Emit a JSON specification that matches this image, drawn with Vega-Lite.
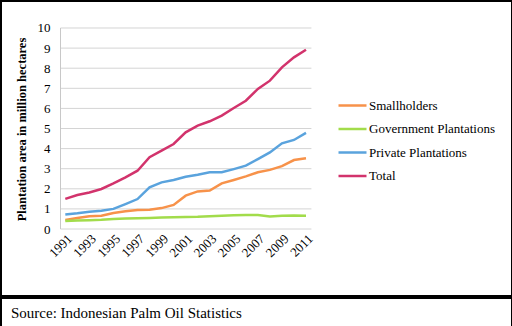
{
  "$schema": "https://vega.github.io/schema/vega-lite/v6.json",
  "padding": 0,
  "spacing": 0,
  "background": "white",
  "config": {
    "font": "Liberation Serif",
    "view": {"stroke": "black", "strokeWidth": 2},
    "axis": {"labelFont": "Liberation Serif", "titleFont": "Liberation Serif", "labelColor": "black", "titleColor": "black", "labelOverlap": false, "ticks": false, "domain": false, "grid": false, "labelFlush": false},
    "axisX": {"orient": "bottom", "offset": -67, "labelAngle": -45, "labelFontSize": 13, "labelPadding": 3, "format": "d"},
    "axisY": {"offset": -60, "labelFontSize": 13, "labelPadding": 11, "titleFontSize": 12.5, "titleFontWeight": "bold", "titleX": -40, "titleY": 128, "titleBaseline": "middle", "titleAngle": 270},
    "legend": {"labelFont": "Liberation Serif"}
  },
  "datasets": {
    "grid": [{"g": 0}, {"g": 1}, {"g": 2}, {"g": 3}, {"g": 4}, {"g": 5}, {"g": 6}, {"g": 7}, {"g": 8}, {"g": 9}, {"g": 10}],
    "area": [
      {"year": 1991, "series": "Smallholders", "value": 0.45},
      {"year": 1992, "series": "Smallholders", "value": 0.55},
      {"year": 1993, "series": "Smallholders", "value": 0.63},
      {"year": 1994, "series": "Smallholders", "value": 0.66},
      {"year": 1995, "series": "Smallholders", "value": 0.8},
      {"year": 1996, "series": "Smallholders", "value": 0.88},
      {"year": 1997, "series": "Smallholders", "value": 0.95},
      {"year": 1998, "series": "Smallholders", "value": 0.96},
      {"year": 1999, "series": "Smallholders", "value": 1.04},
      {"year": 2000, "series": "Smallholders", "value": 1.2},
      {"year": 2001, "series": "Smallholders", "value": 1.66},
      {"year": 2002, "series": "Smallholders", "value": 1.87},
      {"year": 2003, "series": "Smallholders", "value": 1.91},
      {"year": 2004, "series": "Smallholders", "value": 2.27},
      {"year": 2005, "series": "Smallholders", "value": 2.44},
      {"year": 2006, "series": "Smallholders", "value": 2.62},
      {"year": 2007, "series": "Smallholders", "value": 2.82},
      {"year": 2008, "series": "Smallholders", "value": 2.94},
      {"year": 2009, "series": "Smallholders", "value": 3.13},
      {"year": 2010, "series": "Smallholders", "value": 3.43},
      {"year": 2011, "series": "Smallholders", "value": 3.52},
      {"year": 1991, "series": "Government Plantations", "value": 0.4},
      {"year": 1992, "series": "Government Plantations", "value": 0.42},
      {"year": 1993, "series": "Government Plantations", "value": 0.44},
      {"year": 1994, "series": "Government Plantations", "value": 0.46},
      {"year": 1995, "series": "Government Plantations", "value": 0.5},
      {"year": 1996, "series": "Government Plantations", "value": 0.52},
      {"year": 1997, "series": "Government Plantations", "value": 0.53},
      {"year": 1998, "series": "Government Plantations", "value": 0.55},
      {"year": 1999, "series": "Government Plantations", "value": 0.57},
      {"year": 2000, "series": "Government Plantations", "value": 0.59},
      {"year": 2001, "series": "Government Plantations", "value": 0.6},
      {"year": 2002, "series": "Government Plantations", "value": 0.61},
      {"year": 2003, "series": "Government Plantations", "value": 0.64},
      {"year": 2004, "series": "Government Plantations", "value": 0.66},
      {"year": 2005, "series": "Government Plantations", "value": 0.68},
      {"year": 2006, "series": "Government Plantations", "value": 0.7},
      {"year": 2007, "series": "Government Plantations", "value": 0.7},
      {"year": 2008, "series": "Government Plantations", "value": 0.62},
      {"year": 2009, "series": "Government Plantations", "value": 0.66},
      {"year": 2010, "series": "Government Plantations", "value": 0.67},
      {"year": 2011, "series": "Government Plantations", "value": 0.66},
      {"year": 1991, "series": "Private Plantations", "value": 0.72},
      {"year": 1992, "series": "Private Plantations", "value": 0.78},
      {"year": 1993, "series": "Private Plantations", "value": 0.86},
      {"year": 1994, "series": "Private Plantations", "value": 0.91},
      {"year": 1995, "series": "Private Plantations", "value": 1.0},
      {"year": 1996, "series": "Private Plantations", "value": 1.24},
      {"year": 1997, "series": "Private Plantations", "value": 1.49},
      {"year": 1998, "series": "Private Plantations", "value": 2.07},
      {"year": 1999, "series": "Private Plantations", "value": 2.32},
      {"year": 2000, "series": "Private Plantations", "value": 2.44},
      {"year": 2001, "series": "Private Plantations", "value": 2.6},
      {"year": 2002, "series": "Private Plantations", "value": 2.7},
      {"year": 2003, "series": "Private Plantations", "value": 2.82},
      {"year": 2004, "series": "Private Plantations", "value": 2.82},
      {"year": 2005, "series": "Private Plantations", "value": 2.98},
      {"year": 2006, "series": "Private Plantations", "value": 3.15},
      {"year": 2007, "series": "Private Plantations", "value": 3.48},
      {"year": 2008, "series": "Private Plantations", "value": 3.81},
      {"year": 2009, "series": "Private Plantations", "value": 4.26},
      {"year": 2010, "series": "Private Plantations", "value": 4.43},
      {"year": 2011, "series": "Private Plantations", "value": 4.78},
      {"year": 1991, "series": "Total", "value": 1.5},
      {"year": 1992, "series": "Total", "value": 1.69},
      {"year": 1993, "series": "Total", "value": 1.82},
      {"year": 1994, "series": "Total", "value": 1.99},
      {"year": 1995, "series": "Total", "value": 2.27},
      {"year": 1996, "series": "Total", "value": 2.57},
      {"year": 1997, "series": "Total", "value": 2.9},
      {"year": 1998, "series": "Total", "value": 3.57},
      {"year": 1999, "series": "Total", "value": 3.9},
      {"year": 2000, "series": "Total", "value": 4.23},
      {"year": 2001, "series": "Total", "value": 4.81},
      {"year": 2002, "series": "Total", "value": 5.14},
      {"year": 2003, "series": "Total", "value": 5.36},
      {"year": 2004, "series": "Total", "value": 5.64},
      {"year": 2005, "series": "Total", "value": 6.02},
      {"year": 2006, "series": "Total", "value": 6.38},
      {"year": 2007, "series": "Total", "value": 6.97},
      {"year": 2008, "series": "Total", "value": 7.38},
      {"year": 2009, "series": "Total", "value": 8.04},
      {"year": 2010, "series": "Total", "value": 8.54},
      {"year": 2011, "series": "Total", "value": 8.92}
    ],
    "source": [{"label": "Source: Indonesian Palm Oil Statistics"}]
  },
  "vconcat": [
    {
      "width": 511,
      "height": 295,
      "layer": [
        {
          "data": {"name": "grid"},
          "mark": {"type": "rule", "color": "#d4d4d4", "strokeWidth": 1},
          "encoding": {
            "x": {
              "datum": 1990.6, "type": "quantitative",
              "scale": {"domain": [1985.657, 2028.117], "nice": false, "zero": false},
              "axis": {"title": null, "values": [1991, 1993, 1995, 1997, 1999, 2001, 2003, 2005, 2007, 2009, 2011]}
            },
            "x2": {"datum": 2011.45},
            "y": {
              "field": "g", "type": "quantitative",
              "scale": {"domain": [-3.333, 11.343], "nice": false, "zero": false},
              "axis": {"title": "Plantation area in million hectares", "values": [0, 1, 2, 3, 4, 5, 6, 7, 8, 9, 10]}
            }
          }
        },
        {
          "data": {"name": "grid"},
          "mark": {"type": "rule", "color": "#c8c8c8", "strokeWidth": 1},
          "transform": [{"filter": "datum.g == 0"}],
          "encoding": {
            "x": {"datum": 1990.6, "type": "quantitative",
              "axis": {"title": null, "values": [1991, 1993, 1995, 1997, 1999, 2001, 2003, 2005, 2007, 2009, 2011]}},
            "y": {"datum": 0, "type": "quantitative",
              "axis": {"title": "Plantation area in million hectares", "values": [0, 1, 2, 3, 4, 5, 6, 7, 8, 9, 10]}},
            "y2": {"datum": 10}
          }
        },
        {
          "data": {"name": "area"},
          "mark": {"type": "line", "strokeWidth": 2.5},
          "encoding": {
            "x": {"field": "year", "type": "quantitative",
              "axis": {"title": null, "values": [1991, 1993, 1995, 1997, 1999, 2001, 2003, 2005, 2007, 2009, 2011]}},
            "y": {"field": "value", "type": "quantitative",
              "axis": {"title": "Plantation area in million hectares", "values": [0, 1, 2, 3, 4, 5, 6, 7, 8, 9, 10]}},
            "color": {
              "field": "series", "type": "nominal",
              "scale": {
                "domain": ["Smallholders", "Government Plantations", "Private Plantations", "Total"],
                "range": ["#F7924A", "#A2DC4B", "#5AA3DD", "#D2336C"]
              },
              "legend": {
                "orient": "none", "legendX": 336, "legendY": 89, "title": null,
                "symbolType": "stroke", "symbolSize": 784, "symbolStrokeWidth": 2.5,
                "labelFontSize": 13, "labelColor": "black", "labelOffset": 1, "rowPadding": 0.5, "padding": 0
              }
            }
          }
        }
      ]
    },
    {
      "width": 511,
      "height": 30,
      "data": {"name": "source"},
      "mark": {"type": "text", "align": "left", "baseline": "middle", "fontSize": 15, "color": "black", "dx": 10},
      "encoding": {
        "text": {"field": "label"},
        "x": {"datum": 0, "type": "quantitative", "scale": {"domain": [0, 1]}, "axis": null}
      }
    }
  ]
}
